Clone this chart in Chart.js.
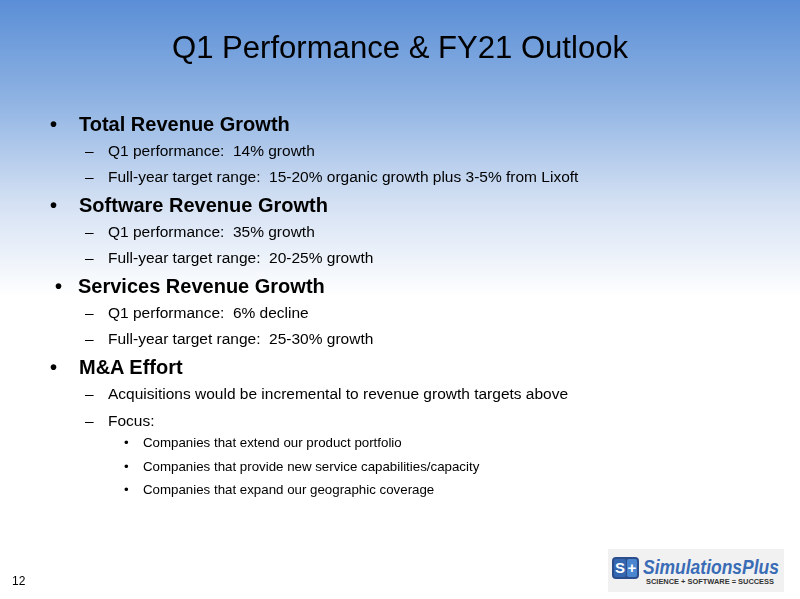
<!DOCTYPE html>
<html><head><meta charset="utf-8">
<script src="https://cdn.jsdelivr.net/npm/chart.js@4/dist/chart.umd.min.js"></script>
<style>
html,body{margin:0;padding:0;width:800px;height:599px;overflow:hidden;background:#fff;font-family:"Liberation Sans",Arial,sans-serif;}
#wrap{position:relative;width:800px;height:599px;}
#bg{position:absolute;left:0;top:0;width:800px;height:599px;}
.t{position:absolute;white-space:pre;color:#000;}
.title{font-size:31px;}
.h{font-weight:bold;font-size:20px;}
.s{font-size:15.5px;}
.ss{font-size:13.3px;}
.pg{font-size:12px;}
#logo{position:absolute;left:608px;top:549px;width:176px;height:43px;background:#f1f1f1;}
</style></head><body>
<div id="wrap">
<canvas id="bg" width="800" height="599"></canvas>
<div id="txt"></div>
<div id="logo">
 <div style="position:absolute;left:4px;top:8px;width:27px;height:22px;background:#2b4d8c;border-radius:4px;"></div>
 <div style="position:absolute;left:6px;top:10px;width:12px;height:18px;background:#3566b0;border-radius:2px;color:#fff;font:bold 15px 'Liberation Sans',Arial;line-height:18px;text-align:center;">S</div>
 <div style="position:absolute;left:19px;top:10px;width:10px;height:18px;background:#4a86d0;border-radius:2px;color:#fff;font:bold 15px 'Liberation Sans',Arial;line-height:18px;text-align:center;">+</div>
 <div id="lgName" class="t" style="left:35px;top:6px;font:italic bold 21px 'Liberation Sans',Arial;line-height:24px;color:#3a6cb6;">SimulationsPlus</div>
 <div id="lgTag" class="t" style="left:38px;top:28px;font:bold 8px 'Liberation Sans',Arial;line-height:10px;color:#333;">SCIENCE + SOFTWARE = SUCCESS</div>
</div>
</div>
<script>
const slideTitle = "Q1 Performance & FY21 Outlook";
const headings = ["Total Revenue Growth","Software Revenue Growth","Services Revenue Growth","M&A Effort"];
const subItems = [
  ["Q1 performance:  14% growth","Full-year target range:  15-20% organic growth plus 3-5% from Lixoft"],
  ["Q1 performance:  35% growth","Full-year target range:  20-25% growth"],
  ["Q1 performance:  6% decline","Full-year target range:  25-30% growth"],
  ["Acquisitions would be incremental to revenue growth targets above","Focus:"]
];
const focusItems = ["Companies that extend our product portfolio","Companies that provide new service capabilities/capacity","Companies that expand our geographic coverage"];
const pageNumber = "12";

// layout (centers of text lines)
const headY = [124,205,286,367];
const subY = [[151,177],[232,258],[313,339],[394,421]];
const focusY = [443,467,490];

const txt = document.getElementById('txt');
function add(cls, text, x, cy, lh){
  const d=document.createElement('div');
  d.className='t '+cls; d.textContent=text;
  d.style.left=x+'px'; d.style.top=(cy-lh/2)+'px'; d.style.lineHeight=lh+'px';
  txt.appendChild(d); return d;
}
function fitW(el, w){
  const cur = el.getBoundingClientRect().width;
  if(cur>0){ el.style.transformOrigin='left center'; el.style.transform='scaleX('+(w/cur)+')'; }
}
const ti = add('title', slideTitle, 172, 48, 36);
fitW(ti, 456);
headings.forEach((h,i)=>{
  const off = i===2 ? 5 : 0;
  add('h','\u2022', 50+off, headY[i], 24);
  add('h', h, 79-(i===2?1:0), headY[i], 24);
  subItems[i].forEach((s,j)=>{
    add('s','\u2013', 85, subY[i][j], 18);
    add('s', s, 108, subY[i][j], 18);
  });
});
focusItems.forEach((f,k)=>{
  add('ss','\u2022', 124, focusY[k], 16);
  add('ss', f, 143, focusY[k], 16);
});
add('pg', pageNumber, 12, 581, 15);
fitW(document.getElementById('lgName'), 136);
fitW(document.getElementById('lgTag'), 128);

// background drawn via Chart.js plugin
const bgPlugin = {
  id:'slideBg',
  beforeDraw(chart){
    const ctx=chart.ctx;
    const g=ctx.createLinearGradient(0,0,0,296);
    g.addColorStop(0,'#5a8ed6');
    g.addColorStop(0.34,'#8fb3e3');
    g.addColorStop(0.68,'#d3e0f3');
    g.addColorStop(1,'#ffffff');
    ctx.save();
    ctx.fillStyle='#ffffff';
    ctx.fillRect(0,0,chart.width,chart.height);
    ctx.fillStyle=g;
    ctx.fillRect(0,0,chart.width,296);
    ctx.restore();
  }
};
new Chart(document.getElementById('bg'),{
  type:'bar',
  data:{labels:[],datasets:[]},
  options:{responsive:false,animation:false,events:[],
    plugins:{legend:{display:false},tooltip:{enabled:false}},
    scales:{x:{display:false},y:{display:false}},
    layout:{padding:0}},
  plugins:[bgPlugin]
});
</script>
</body></html>
